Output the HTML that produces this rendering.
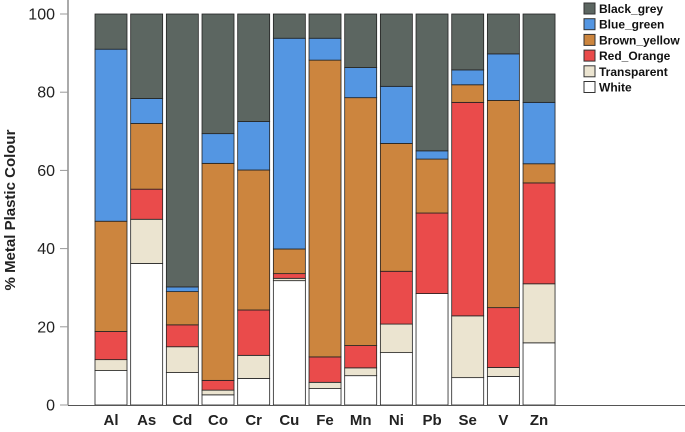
<!DOCTYPE html>
<html><head><meta charset="utf-8"><style>
body{margin:0;background:#fff}
svg text{font-family:"Liberation Sans",sans-serif}
</style></head><body>
<svg id="c" width="685" height="427"></svg>
<script>
const categories=["Al","As","Cd","Co","Cr","Cu","Fe","Mn","Ni","Pb","Se","V","Zn"];
const seriesNames=["White","Transparent","Red_Orange","Brown_yellow","Blue_green","Black_grey"];
const seriesColors=["#ffffff","#ebe4d0","#ea4b4b","#cc853e","#5496e2","#5c6661"];
const white=[8.8,36.2,8.3,2.6,6.8,31.8,4.2,7.5,13.4,28.5,7.0,7.3,15.9];
const transparent=[2.8,11.3,6.6,1.2,5.9,0.6,1.6,2.0,7.3,0,15.8,2.3,15.1];
const redOrange=[7.2,7.7,5.6,2.5,11.6,1.2,6.5,5.7,13.5,20.6,54.6,15.3,25.8];
const brownYellow=[28.2,16.8,8.5,55.5,35.8,6.3,75.9,63.4,32.7,13.8,4.5,53.0,4.9];
const blueGreen=[44.0,6.4,1.2,7.6,12.4,53.9,5.6,7.7,14.6,2.1,3.8,11.9,15.7];
const blackGrey=[9.0,21.6,69.8,30.6,27.5,6.2,6.2,13.7,18.5,35.0,14.3,10.2,22.6];
const yTicks=[0,20,40,60,80,100];
const series=[white,transparent,redOrange,brownYellow,blueGreen,blackGrey];
const NS="http://www.w3.org/2000/svg";
const svg=document.getElementById('c');
function y(v){return 405-v*3.91;}
function x(i){return 95+i*35.67;}
const bw=32;
function mk(t,a){const e=document.createElementNS(NS,t);for(const k in a)e.setAttribute(k,a[k]);svg.appendChild(e);return e;}
categories.forEach((c,i)=>{
  let cum=0;
  series.forEach((s,j)=>{
    const v=s[i];
    const r=mk('rect',{x:x(i),y:y(cum+v),width:bw,height:Math.max(0,y(cum)-y(cum+v)),fill:seriesColors[j],stroke:'#222','stroke-width':0.8});
    
    
    cum+=v;
  });
  const t=mk('text',{x:x(i)+bw/2,y:425,'text-anchor':'middle','font-size':15,'font-weight':'bold',fill:'#222'});
  t.textContent=c;
  
  
});
const ya=mk('line',{x1:68,y1:0,x2:68,y2:405,stroke:'#555','stroke-width':1});


const xa=mk('line',{x1:68,y1:405.5,x2:685,y2:405.5,stroke:'#555','stroke-width':1});


yTicks.forEach(v=>{
  const l=mk('line',{x1:60,y1:y(v),x2:68,y2:y(v),stroke:'#999'});
  
  
  const t=mk('text',{x:55,y:y(v)+5.5,'text-anchor':'end','font-size':16,fill:'#222'});
  t.textContent=v;
  
  
});
const yt=mk('text',{x:0,y:0,transform:'translate(15,210) rotate(-90)','text-anchor':'middle','font-size':15,'font-weight':'bold',fill:'#222'});
yt.textContent='% Metal Plastic Colour';


for(let k=0;k<6;k++){
  const j=5-k;
  const r=mk('rect',{x:584,y:3+k*15.7,width:11,height:11,fill:seriesColors[j],stroke:'#333','stroke-width':1});
  
  
  const t=mk('text',{x:599,y:13+k*15.7,'font-size':12,'font-weight':'bold',fill:'#111'});
  t.textContent=seriesNames[j];
  
  
}
</script>
</body></html>
